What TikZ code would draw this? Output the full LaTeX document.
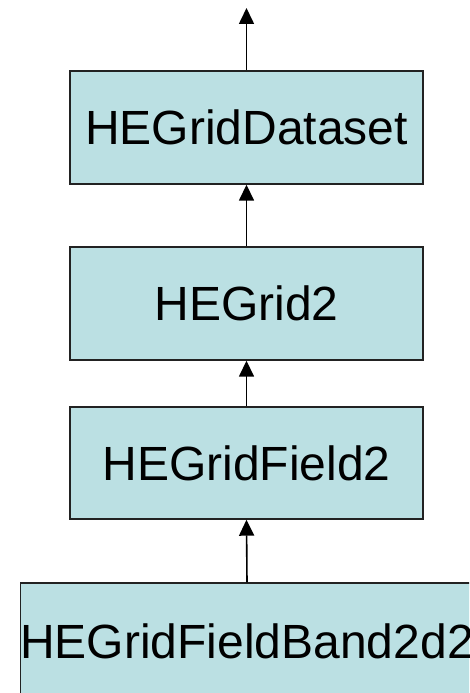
\documentclass[tikz,border=0pt]{standalone}
\usepackage{fontspec}
\setmainfont{Liberation Sans}
\usetikzlibrary{arrows.meta}
\definecolor{boxfill}{HTML}{BBE0E3}
\definecolor{boxline}{HTML}{222222}
\tikzset{
  classbox/.style={draw=boxline, line width=1.4pt, fill=boxfill, inner sep=0pt,
    font=\fontsize{48}{50}\selectfont, text height=34.4pt, text depth=0pt},
  inherit/.style={line width=1.6pt, -{Triangle[width=15pt,length=16pt]}}
}
\begin{document}
\begin{tikzpicture}[x=1pt,y=-1pt]
\useasboundingbox (0,0) rectangle (469,693);
\clip (0,0) rectangle (469,693);
\node[classbox, minimum width=353pt, minimum height=113pt] (ds) at (246.5,127.5) {HEGridDataset};
\node[classbox, minimum width=353pt, minimum height=113pt] (g2) at (246.5,303.5) {HEGrid2};
\node[classbox, minimum width=353pt, minimum height=112pt] (gf) at (246.5,463) {HEGridField2};
\node[classbox, minimum width=450pt, minimum height=116pt] (gb) at (247,641) {HEGridFieldBand2d2};
\coordinate (top) at (246.5,8);
\draw[inherit] (ds.north) -- (top);
\draw[inherit] (g2.north) -- (ds.south);
\draw[inherit] (gf.north) -- (g2.south);
\draw[inherit] (gb.north) -- (gf.south);
\end{tikzpicture}
\end{document}
